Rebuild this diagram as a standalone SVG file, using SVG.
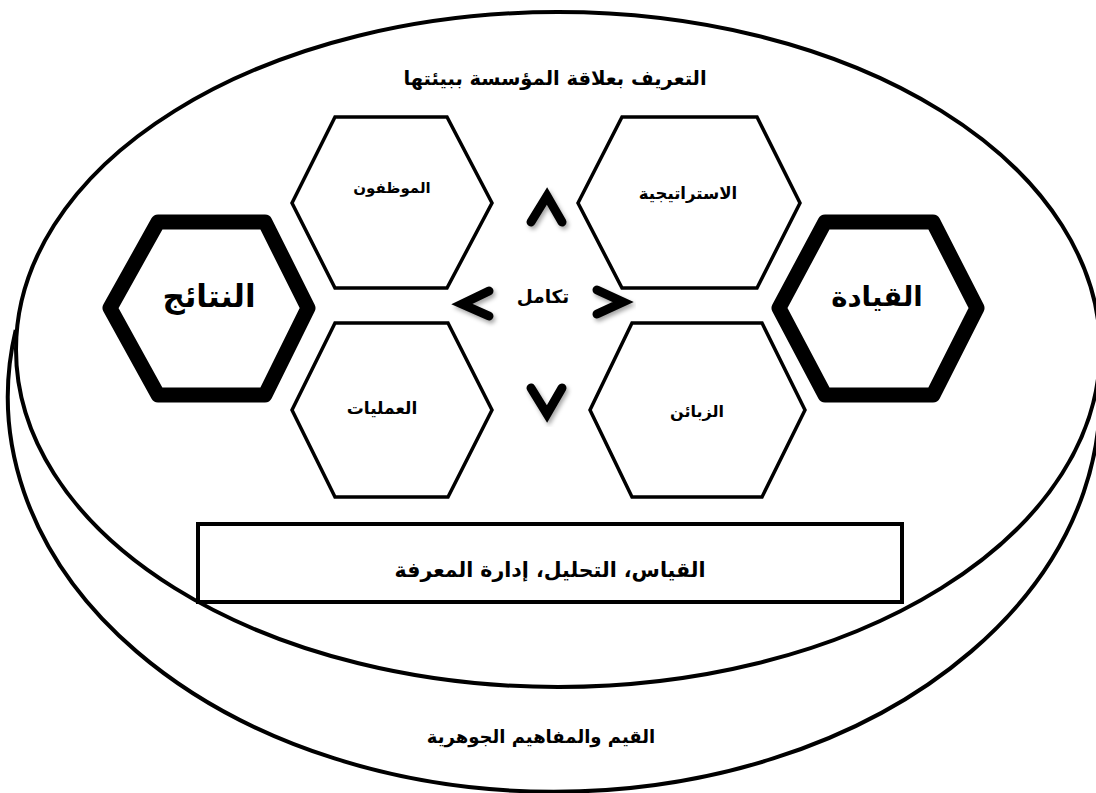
<svg xmlns="http://www.w3.org/2000/svg" width="1096" height="793" viewBox="0 0 1096 793">
<style>
.ln{fill:none;stroke:#000;stroke-width:4}
.hx{fill:#fff;stroke:#000;stroke-width:3.5;stroke-linejoin:miter}
.hxb{fill:#fff;stroke:#000;stroke-width:15;stroke-linejoin:round}
.t{font-family:"DejaVu Sans",sans-serif;font-weight:bold;fill:#000;text-anchor:middle;dominant-baseline:central}
.ch{fill:none;stroke:#000;stroke-width:9;stroke-linecap:round;stroke-linejoin:miter;filter:url(#sh)}
</style>
<defs>
<filter id="sh" x="-50%" y="-50%" width="200%" height="200%">
<feDropShadow dx="2" dy="3" stdDeviation="2" flood-color="#000" flood-opacity="0.35"/>
</filter>
</defs>
<g id="cylinder">
<path class="ln" d="M15.7,330 A546,395 0 1 0 1092,330"/>
<ellipse cx="558" cy="349.5" rx="542" ry="337.5" fill="#fff" stroke="#000" stroke-width="4"/>
</g>
<g id="title"><text class="t" x="555" y="78" font-size="19.5">التعريف بعلاقة المؤسسة ببيئتها</text></g>
<g id="n-employees">
<polygon class="hx" points="292,203 335,117 447,117 492,203 447,288 335,288"/>
<text class="t" x="392" y="188" font-size="15">الموظفون</text>
</g>
<g id="n-strategy">
<polygon class="hx" points="578,203 622,117 757,117 800,203 757,288 622,288"/>
<text class="t" x="688" y="193" font-size="16.5">الاستراتيجية</text>
</g>
<g id="n-processes">
<polygon class="hx" points="292,410 335,323 448,323 492,410 448,497 335,497"/>
<text class="t" x="382" y="408" font-size="17">العمليات</text>
</g>
<g id="n-customers">
<polygon class="hx" points="590,410 632,323 762,323 805,410 762,497 632,497"/>
<text class="t" x="697" y="411" font-size="16">الزبائن</text>
</g>
<g id="n-results">
<polygon class="hxb" points="110,308 158,222 265,222 308,308 265,395 158,395"/>
<text class="t" x="209" y="296" font-size="31">النتائج</text>
</g>
<g id="n-leadership">
<polygon class="hxb" points="779,308 825,222 933,222 977,308 933,395 825,395"/>
<text class="t" x="877" y="296" font-size="27.5">القيادة</text>
</g>
<g id="integration">
<text class="t" x="543" y="296" font-size="18.5">تكامل</text>
</g>
<g id="connectors">
<polyline class="ch" points="531,222 547,196 562,222"/>
<polyline class="ch" points="531,388 547,414 562,388"/>
<polyline class="ch" points="489,291 462,304 489,316"/>
<polyline class="ch" points="597,290 623,302 597,314"/>
</g>
<g id="n-measurement">
<rect x="198" y="524" width="704" height="78" fill="#fff" stroke="#000" stroke-width="4"/>
<text class="t" x="550" y="570" font-size="20.5">القياس، التحليل، إدارة المعرفة</text>
</g>
<g id="values"><text class="t" x="541" y="736" font-size="18">القيم والمفاهيم الجوهرية</text></g>
</svg>
